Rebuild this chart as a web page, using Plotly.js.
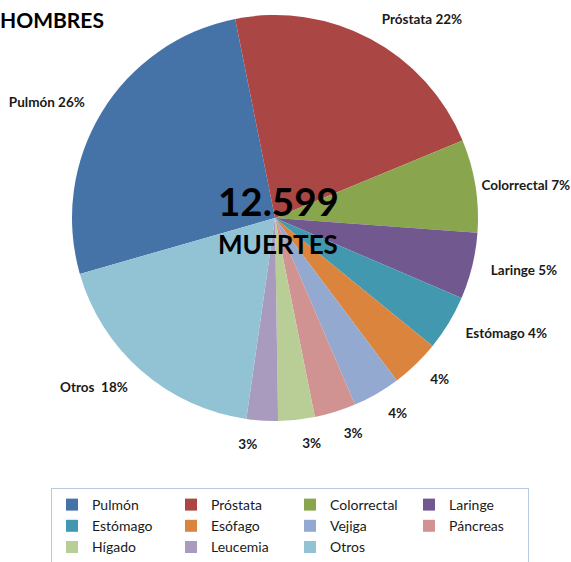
<!DOCTYPE html>
<html>
<head>
<meta charset="utf-8">
<script src="https://cdn.plot.ly/plotly-3.0.1.min.js"></script>
<style>html,body{margin:0;padding:0;background:#fff;}#chart{width:571px;height:562px;}</style>
</head>
<body>
<div id="chart"></div>
<script>
// Data (share of deaths)
const categories = ["Pulmón","Próstata","Colorrectal","Laringe","Estómago","Esófago","Vejiga","Páncreas","Hígado","Leucemia","Otros"];
const values = [26.3, 21.9, 7.4, 5.3, 4.4, 3.9, 3.8, 3.3, 2.9, 2.5, 18.3];
const sliceLabels = ["Pulmón 26%","Próstata 22%","Colorrectal 7%","Laringe 5%","Estómago 4%","4%","4%","3%","3%","3%","Otros\u00a0 18%"];
const colors = ["#4572A7","#AA4643","#89A54E","#71588F","#4198AF","#DB843D","#93A9CF","#D19392","#B9CD96","#A99BBD","#92C3D5"];
const totalText = "12.599";
const totalLabel = "MUERTES";
const titleText = "HOMBRES";

const W = 571, H = 562;
const font = "Lato, 'Open Sans', sans-serif";
const CX = 275, CY = 218;      // pie centre (px)
const R = 203;                 // pie radius (px)

// which label ring each data label is drawn on (layout setting, avoids label collisions)
const labelRing = [0,0,2,0,0,0,0,0,1,0,0];
const ringRadius = [218, 218, 205];

function dom(r) {
  return {x: [(CX - r)/W, (CX + r)/W], y: [Math.max(0, 1 - (CY + r)/H), Math.min(1, 1 - (CY - r)/H)]};
}

const base = {
  type: "pie",
  labels: categories,
  values: values,
  sort: false,
  direction: "clockwise",
  rotation: 254,
  automargin: false
};

// visible pie
const pie = Object.assign({}, base, {
  textinfo: "none",
  marker: {colors: colors, line: {width: 0}},
  domain: dom(R),
  hoverinfo: "label+percent"
});

// transparent copies of the same slices carrying the outside data labels
const labelPies = ringRadius.map((r, k) => {
  const d = dom(r);
  if (k < 2) { d.y = [1 - (CY + r)/H, 1]; }
  return Object.assign({}, base, {
    text: sliceLabels.map((t, i) => labelRing[i] === k ? t : ""),
    textinfo: "text",
    textposition: "outside",
    showlegend: false,
    marker: {colors: categories.map(() => "rgba(0,0,0,0)"), line: {width: 0}},
    outsidetextfont: {family: font, size: 13.5, color: "#1a1a1a", weight: "bold"},
    domain: d,
    hoverinfo: "skip"
  });
});

const layout = {
  width: W, height: H,
  margin: {l:0, r:0, t:0, b:0, autoexpand: false},
  paper_bgcolor: "#fff",
  showlegend: true,
  legend: {
    orientation: "h",
    x: 51/W, y: 1-488/H, xanchor: "left", yanchor: "top",
    entrywidth: 74, entrywidthmode: "pixels",
    bordercolor: "#B9C9DE", borderwidth: 1,
    font: {family: font, size: 14, color: "#1a1a1a"},
    traceorder: "normal"
  },
  annotations: [
    {text: titleText, x: -2/W, y: 1-20/H, xref: "paper", yref: "paper", xanchor: "left", yanchor: "middle", showarrow: false,
     font: {family: font, size: 21, color: "#000", weight: "bold"}},
    {text: totalText, x: 278/W, y: 1-201.5/H, xref: "paper", yref: "paper", xanchor: "center", yanchor: "middle", showarrow: false,
     font: {family: font, size: 38.5, color: "#000", weight: "bold"}},
    {text: totalLabel, x: 278/W, y: 1-244/H, xref: "paper", yref: "paper", xanchor: "center", yanchor: "middle", showarrow: false,
     font: {family: font, size: 26, color: "#000", weight: "bold"}}
  ]
};

Plotly.newPlot("chart", [pie].concat(labelPies), layout, {displayModeBar: false, staticPlot: true});
</script>
</body>
</html>
